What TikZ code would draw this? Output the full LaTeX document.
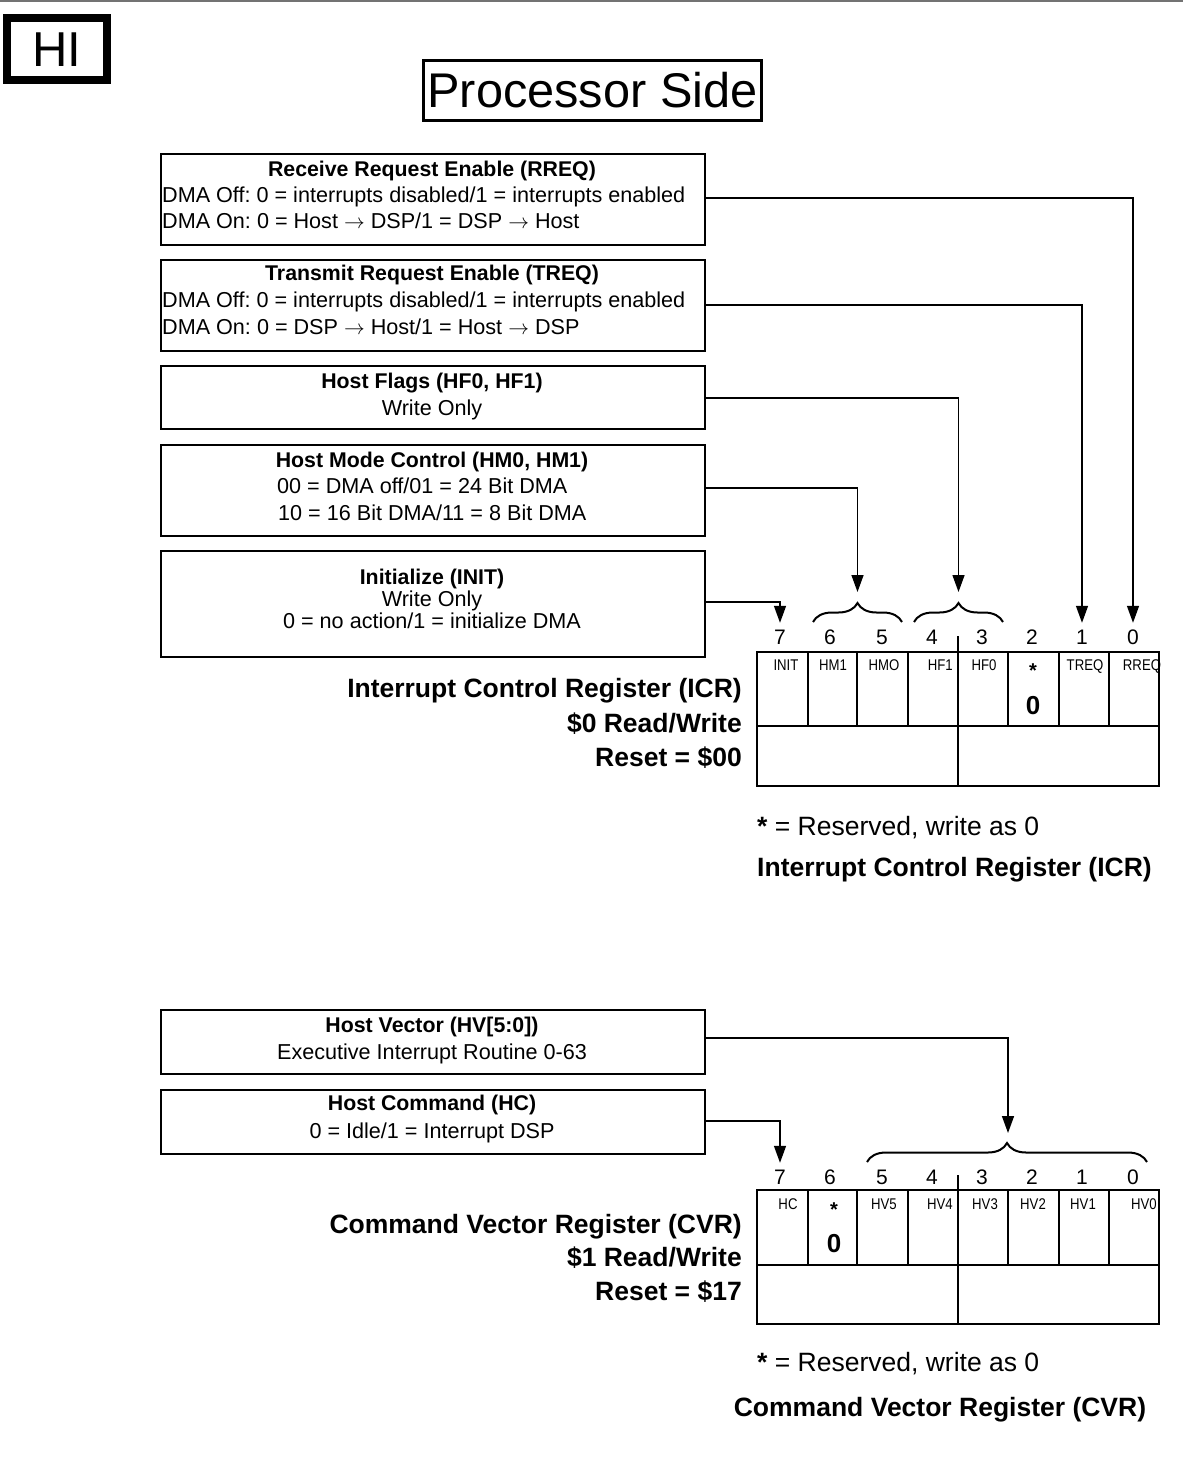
\documentclass[tikz,border=0pt]{standalone}
\usepackage{fontspec}
\usepackage{graphicx}
\setmainfont{Liberation Sans}
\usetikzlibrary{arrows.meta,decorations.pathreplacing}
\newcommand{\myfs}[1]{\fontsize{#1}{#1}\selectfont}
\frenchspacing
\begin{document}
\begin{tikzpicture}[x=1pt,y=-1pt,
  frame/.style={draw, line width=2.4pt, inner sep=0, anchor=north west, minimum width=544pt},
  body/.style={inner sep=0, text height=15.4pt, text depth=0pt, font=\myfs{21.6}},
  ttl/.style={inner sep=0, text height=15.4pt, text depth=0pt, font=\bfseries\myfs{21.3}},
  big/.style={inner sep=0, text height=19pt, text depth=0pt, font=\bfseries\myfs{26.5}},
  note/.style={inner sep=0, text height=19pt, text depth=0pt, font=\myfs{26.5}},
  bitn/.style={inner sep=0, text height=15pt, text depth=0pt, font=\myfs{21}},
  cell/.style={inner sep=0, text height=11pt, text depth=0pt, font=\myfs{15.5}},
  star/.style={inner sep=0, font=\bfseries\myfs{20}},
  zero/.style={inner sep=0, text height=18.6pt, text depth=0pt, font=\bfseries\myfs{26}},
  conn/.style={line width=1.4pt, -{Triangle[length=17pt,width=12pt]}},
  reg/.style={line width=2pt},
  brc/.style={line width=2pt, decorate, decoration={brace, amplitude=19pt}},
]
\useasboundingbox (0,0) rectangle (1183,1474);
\draw[black!55, line width=1.6pt] (0,0.8) -- (1183,0.8);

% headers
\node[draw, line width=8pt, minimum width=99.7pt, minimum height=62pt, inner sep=0,
      font=\myfs{49}, text height=35pt, text depth=0pt] (hi) at (56.8,49) {HI};
\node[draw, line width=3pt, minimum width=338pt, minimum height=60pt, inner sep=0,
      font=\myfs{48.7}, text height=35pt, text depth=0pt] (ps) at (592.5,90.5) {Processor Side};

% description boxes
\node[frame, minimum height=91pt] (b1) at (160,153) {};
\node[frame, minimum height=91pt] (b2) at (160,259) {};
\node[frame, minimum height=63pt] (b3) at (160,365) {};
\node[frame, minimum height=91pt] (b4) at (160,444) {};
\node[frame, minimum height=106pt] (b5) at (160,550) {};
\node[frame, minimum height=64pt] (b6) at (160,1009) {};
\node[frame, minimum height=64pt] (b7) at (160,1089) {};

\node[ttl] (b1t) at (432,169) {Receive Request Enable (RREQ)};
\node[body, anchor=west] (b1a) at (162,195) {DMA Off: 0 = interrupts disabled/1 = interrupts enabled};
\node[body, anchor=west] (b1b) at (162,221) {DMA On: 0 = Host $\rightarrow$ DSP/1 = DSP $\rightarrow$ Host};

\node[ttl] (b2t) at (432,273) {Transmit Request Enable (TREQ)};
\node[body, anchor=west] (b2a) at (162,300) {DMA Off: 0 = interrupts disabled/1 = interrupts enabled};
\node[body, anchor=west] (b2b) at (162,327) {DMA On: 0 = DSP $\rightarrow$ Host/1 = Host $\rightarrow$ DSP};

\node[ttl] (b3t) at (432,381) {Host Flags (HF0, HF1)};
\node[body] (b3a) at (432,408) {Write Only};

\node[ttl] (b4t) at (432,460) {Host Mode Control (HM0, HM1)};
\node[body, anchor=west] (b4a) at (277,486) {00 = DMA off/01 = 24 Bit DMA};
\node[body, anchor=west] (b4b) at (278,513) {10 = 16 Bit DMA/11 = 8 Bit DMA};

\node[ttl] (b5t) at (432,577) {Initialize (INIT)};
\node[body] (b5a) at (432,599) {Write Only};
\node[body] (b5b) at (432,621) {0 = no action/1 = initialize DMA};

\node[ttl] (b6t) at (432,1025) {Host Vector (HV[5:0])};
\node[body] (b6a) at (432,1052) {Executive Interrupt Routine 0-63};

\node[ttl] (b7t) at (432,1103) {Host Command (HC)};
\node[body] (b7a) at (432,1131) {0 = Idle/1 = Interrupt DSP};

% ICR register
\foreach \x/\n in {780/7, 830/6, 882/5, 932/4, 982/3, 1032/2, 1082/1, 1133/0}
  \node[bitn] (i\n) at (\x,637) {\n};
\draw[reg] (757,652) rectangle (1159,786);
\draw[reg] (757,726) -- (1159,726);
\foreach \x in {808,857,908,1008,1059,1109} \draw[reg] (\x,652) -- (\x,726);
\draw[reg] (958,636) -- (958,786);
\node[cell] (l7) at (786,665) {\scalebox{0.85}[1]{INIT}};
\node[cell] (l6) at (833,665) {\scalebox{0.85}[1]{HM1}};
\node[cell] (l5) at (884,665) {\scalebox{0.85}[1]{HMO}};
\node[cell, anchor=east] (l4) at (953,665) {\scalebox{0.85}[1]{HF1}};
\node[cell] (l3) at (984,665) {\scalebox{0.85}[1]{HF0}};
\node[star] (l2) at (1033,671) {*};
\node[cell] (l1) at (1085,665) {\scalebox{0.85}[1]{TREQ}};
\node[cell] (l0) at (1142,665) {\scalebox{0.85}[1]{RREQ}};
\node[zero] (z2) at (1033,705) {0};

\draw[brc] (813,622) -- (902,622);
\draw[brc] (914,622) -- (1003,622);
\coordinate (hm) at (857.5,592);
\coordinate (hf) at (958.5,592);

\draw[conn] (b1.east |- 0,198) -| ([yshift=6.5pt]i0.north);
\draw[conn] (b2.east |- 0,305) -| ([yshift=6.5pt]i1.north);
\draw[conn] (b3.east |- 0,398) -| (hf);
\draw[conn] (b4.east |- 0,488) -| (hm);
\draw[conn] (b5.east |- 0,602) -| ([yshift=6.5pt]i7.north);

\node[big, anchor=east] (icr1) at (742,688) {Interrupt Control Register (ICR)};
\node[big, anchor=east] (icr2) at (742,723) {\$0 Read/Write};
\node[big, anchor=east] (icr3) at (742,757) {Reset = \$00};
\node[note, anchor=west] (icrn) at (757,826) {\textbf{*} = Reserved, write as 0};
\node[big] (icrc) at (954.5,867) {Interrupt Control Register (ICR)};

% CVR register
\foreach \x/\n in {780/7, 830/6, 882/5, 932/4, 982/3, 1032/2, 1082/1, 1133/0}
  \node[bitn] (c\n) at (\x,1177) {\n};
\draw[reg] (757,1190) rectangle (1159,1324);
\draw[reg] (757,1265) -- (1159,1265);
\foreach \x in {808,857,908,1008,1059,1109} \draw[reg] (\x,1190) -- (\x,1265);
\draw[reg] (958,1175) -- (958,1324);
\node[cell] (m7) at (788,1204) {\scalebox{0.85}[1]{HC}};
\node[star] (m6) at (834,1210) {*};
\node[cell] (m5) at (884,1204) {\scalebox{0.85}[1]{HV5}};
\node[cell, anchor=east] (m4) at (953,1204) {\scalebox{0.85}[1]{HV4}};
\node[cell] (m3) at (985,1204) {\scalebox{0.85}[1]{HV3}};
\node[cell] (m2) at (1033,1204) {\scalebox{0.85}[1]{HV2}};
\node[cell] (m1) at (1083,1204) {\scalebox{0.85}[1]{HV1}};
\node[cell, anchor=east] (m0) at (1157,1204) {\scalebox{0.85}[1]{HV0}};
\node[zero] (z6) at (834,1243) {0};

\draw[brc] (867,1162) -- (1147,1162);
\coordinate (hv) at (1008,1133);
\draw[conn] (b6.east |- 0,1038) -| (hv);
\draw[conn] (b7.east |- 0,1121) -| ([yshift=6.5pt]c7.north);

\node[big, anchor=east] (cvr1) at (742,1224) {Command Vector Register (CVR)};
\node[big, anchor=east] (cvr2) at (742,1257) {\$1 Read/Write};
\node[big, anchor=east] (cvr3) at (742,1291) {Reset = \$17};
\node[note, anchor=west] (cvrn) at (757,1362) {\textbf{*} = Reserved, write as 0};
\node[big] (cvrc) at (940,1407) {Command Vector Register (CVR)};
\end{tikzpicture}
\end{document}
